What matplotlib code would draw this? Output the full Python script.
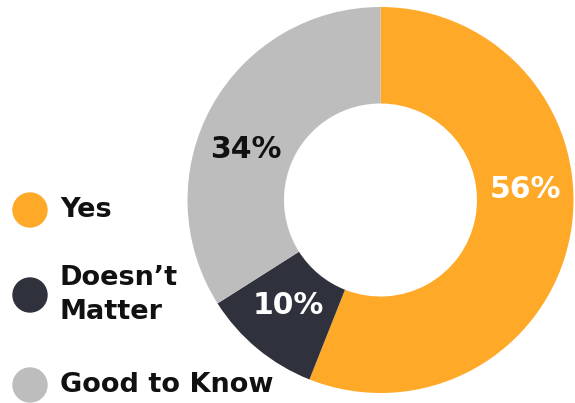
import matplotlib
matplotlib.use("Agg")
import matplotlib.pyplot as plt
from matplotlib.patches import Circle

categories = ["Yes", "Doesn\u2019t\nMatter", "Good to Know"]
values = [56, 10, 34]
colors = ["#FFA929", "#2F323C", "#BDBDBD"]
pct_labels = ["56%", "10%", "34%"]
pct_colors = ["white", "white", "#111111"]

W, H = 575, 403
fig = plt.figure(figsize=(W / 100, H / 100), dpi=100)
FONT = "DejaVu Sans"

# donut
cx, cy, r = 380.5, 200.0, 193.0
ax = fig.add_axes([(cx - r) / W, (H - cy - r) / H, 2 * r / W, 2 * r / H])
wedges, _ = ax.pie(values, colors=colors, startangle=90, counterclock=False,
                   radius=1.0, wedgeprops=dict(width=0.5, edgecolor="none"))
ax.set_xlim(-1, 1)
ax.set_ylim(-1, 1)
ax.set_aspect("equal")
ax.axis("off")

# percentage labels (pixel positions in overlay)
ov = fig.add_axes([0, 0, 1, 1], facecolor="none")
ov.set_xlim(0, W)
ov.set_ylim(H, 0)
ov.axis("off")
label_pos = [(525, 190), (288, 306), (246, 149)]
for (x, y), t, c in zip(label_pos, pct_labels, pct_colors):
    ov.text(x, y, t, color=c, fontsize=21.5, fontweight="bold", family=FONT,
            ha="center", va="center")

# legend
leg_y = [210, 295, 385]
for y, lab, col in zip(leg_y, categories, colors):
    ov.add_patch(Circle((30, y), 17, color=col, clip_on=False))
    ov.text(60, y, lab, fontsize=19.5, fontweight="bold", family=FONT,
            ha="left", va="center", color="#111111", linespacing=1.42)

fig.savefig("out.png", dpi=100)
